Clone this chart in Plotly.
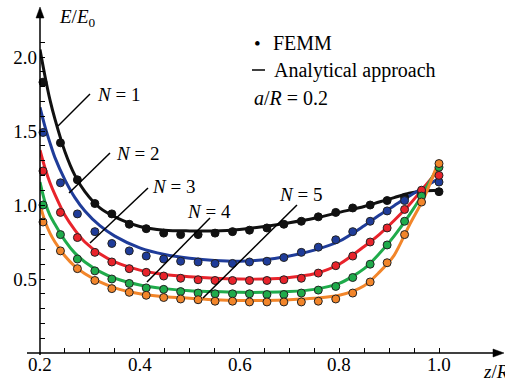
import plotly.graph_objects as go

# ---------------- data ----------------
z_pts = [0.206, 0.241, 0.275, 0.310, 0.344, 0.379, 0.413, 0.448, 0.482, 0.517, 0.551, 0.586,
         0.620, 0.655, 0.689, 0.724, 0.758, 0.793, 0.827, 0.862, 0.896, 0.931, 0.965, 1.000]

femm_n1 = [1.83, 1.42, 1.17, 1.01, 0.94, 0.87, 0.84, 0.81, 0.80, 0.80, 0.81, 0.82,
           0.83, 0.845, 0.87, 0.89, 0.92, 0.95, 0.98, 1.00, 1.03, 1.05, 1.07, 1.09]
femm_n2 = [1.49, 1.15, 0.94, 0.82, 0.74, 0.69, 0.655, 0.635, 0.62, 0.615, 0.605, 0.605,
           0.615, 0.62, 0.645, 0.68, 0.715, 0.765, 0.82, 0.89, 0.96, 1.03, 1.09, 1.155]
femm_n3 = [1.23, 0.95, 0.78, 0.68, 0.615, 0.57, 0.545, 0.52, 0.505, 0.495, 0.49, 0.49,
           0.49, 0.49, 0.495, 0.505, 0.54, 0.59, 0.655, 0.75, 0.845, 0.97, 1.10, 1.20]
femm_n4 = [1.00, 0.80, 0.635, 0.555, 0.50, 0.47, 0.44, 0.43, 0.415, 0.405, 0.40, 0.40,
           0.40, 0.395, 0.395, 0.405, 0.425, 0.45, 0.51, 0.60, 0.73, 0.89, 1.06, 1.255]
femm_n5 = [0.885, 0.69, 0.57, 0.49, 0.435, 0.41, 0.39, 0.375, 0.365, 0.36, 0.35, 0.35,
           0.345, 0.345, 0.345, 0.345, 0.35, 0.365, 0.405, 0.48, 0.61, 0.80, 1.02, 1.28]

z_line = [0.20, 0.21, 0.22, 0.23, 0.25, 0.27, 0.29, 0.32, 0.35, 0.40, 0.45, 0.50,
          0.55, 0.60, 0.65, 0.70, 0.75, 0.80, 0.85, 0.88, 0.91, 0.94, 0.97, 1.00]

anal_n1 = [2.05, 1.87, 1.71, 1.58, 1.36, 1.20, 1.09, 0.98, 0.92, 0.855, 0.83, 0.825,
           0.825, 0.835, 0.855, 0.88, 0.91, 0.95, 0.99, 1.02, 1.05, 1.08, 1.095, 1.10]
anal_n2 = [1.66, 1.53, 1.42, 1.32, 1.17, 1.05, 0.96, 0.86, 0.79, 0.71, 0.665, 0.64,
           0.625, 0.62, 0.63, 0.655, 0.695, 0.755, 0.86, 0.93, 0.995, 1.06, 1.12, 1.18]
anal_n3 = [1.37, 1.25, 1.15, 1.07, 0.93, 0.83, 0.75, 0.67, 0.615, 0.56, 0.53, 0.515,
           0.505, 0.50, 0.50, 0.51, 0.535, 0.60, 0.72, 0.80, 0.895, 1.00, 1.12, 1.24]
anal_n4 = [1.155, 1.02, 0.93, 0.87, 0.76, 0.675, 0.615, 0.55, 0.505, 0.46, 0.435, 0.42,
           0.415, 0.41, 0.41, 0.415, 0.43, 0.47, 0.57, 0.67, 0.79, 0.93, 1.09, 1.27]
anal_n5 = [1.00, 0.89, 0.81, 0.75, 0.655, 0.585, 0.535, 0.48, 0.44, 0.40, 0.38, 0.37,
           0.36, 0.355, 0.355, 0.36, 0.37, 0.39, 0.455, 0.545, 0.66, 0.86, 1.05, 1.30]

series_names = ["N = 1", "N = 2", "N = 3", "N = 4", "N = 5"]
x_tick_vals = [0.2, 0.4, 0.6, 0.8, 1.0]
x_tick_text = ["0.2", "0.4", "0.6", "0.8", "1.0"]
y_tick_vals = [0.5, 1.0, 1.5, 2.0]
y_tick_text = ["0.5", "1.0", "1.5", "2.0"]
x_minor = [0.25, 0.3, 0.35, 0.45, 0.5, 0.55, 0.65, 0.7, 0.75, 0.85, 0.9, 0.95]
y_minor = [0.1, 0.2, 0.3, 0.4, 0.6, 0.7, 0.8, 0.9, 1.1, 1.2, 1.3, 1.4, 1.6, 1.7, 1.8, 1.9, 2.1]

colors = ["#111111", "#1f3c99", "#e8232b", "#1fab4b", "#f2852a"]
femm = [femm_n1, femm_n2, femm_n3, femm_n4, femm_n5]
anal = [anal_n1, anal_n2, anal_n3, anal_n4, anal_n5]

# ---------------- geometry ----------------
W, H = 505, 381
ML, MR, MT, MB = 40, 2, 8, 28
PW, PH = W - ML - MR, H - MT - MB
X0, X1 = 0.2, 0.2 + PW / 498.75
Y0, Y1 = 0.0, PH / 148.0


def px(xp):
    return (xp - ML) / PW


def py(yp):
    return (H - MB - yp) / PH


FONT = "'Liberation Serif', 'Times New Roman', Times, serif"
FS = 19

fig = go.Figure()

for name, c, ys in zip(series_names, colors, anal):
    fig.add_trace(go.Scatter(x=z_line, y=ys, mode="lines", name=name,
                             line=dict(color=c, width=3, shape="spline", smoothing=0.8),
                             showlegend=False, cliponaxis=False))

for i, (name, c, ys) in enumerate(zip(series_names, colors, femm)):
    fig.add_trace(go.Scatter(x=z_pts, y=ys, mode="markers", name=name,
                             marker=dict(color=c, size=8,
                                         line=dict(color="#222222" if i else c, width=1)),
                             showlegend=False, cliponaxis=False))

shapes = []
# axis lines
shapes.append(dict(type="line", xref="paper", yref="paper", x0=px(27), x1=px(496), y0=0, y1=0,
                   line=dict(color="black", width=1.5)))
shapes.append(dict(type="line", xref="paper", yref="paper", x0=0, x1=0, y0=py(355), y1=py(14),
                   line=dict(color="black", width=1.5)))
# arrow heads
shapes.append(dict(type="path", xref="paper", yref="paper",
                   path=f"M {px(504)} {py(353)} L {px(493)} {py(349)} L {px(493)} {py(357)} Z",
                   fillcolor="black", line=dict(color="black", width=0.5)))
shapes.append(dict(type="path", xref="paper", yref="paper",
                   path=f"M {px(40)} {py(7)} L {px(36)} {py(18)} L {px(44)} {py(18)} Z",
                   fillcolor="black", line=dict(color="black", width=0.5)))
# leader lines for N labels
leaders = [((90, 94), (58, 126)), ((110, 153), (69, 193)), ((148, 188), (90, 243)),
           ((210, 218), (147, 282)), ((297, 205), (203, 298))]
for (a, b) in leaders:
    shapes.append(dict(type="line", xref="paper", yref="paper",
                       x0=px(a[0]), y0=py(a[1]), x1=px(b[0]), y1=py(b[1]),
                       line=dict(color="black", width=1.5)))
# legend dash
shapes.append(dict(type="line", xref="paper", yref="paper", x0=px(252), x1=px(265),
                   y0=py(70), y1=py(70), line=dict(color="black", width=1.5)))

ann = []
# x tick labels (placed close under the axis, as in the reference)
for v, t in zip(x_tick_vals, x_tick_text):
    ann.append(dict(text=t, xref="x", yref="paper", x=v, y=py(364), xanchor="center",
                    yanchor="middle", showarrow=False, font=dict(family=FONT, size=FS, color="black")))
label_pos = [(95, 94), (114, 153), (150, 186), (185, 211), (277, 194)]
for name, (xp, yp) in zip(series_names, label_pos):
    ann.append(dict(text="<i>N</i>" + name[1:], xref="paper", yref="paper",
                    x=px(xp), y=py(yp), xanchor="left", yanchor="middle", showarrow=False,
                    font=dict(family=FONT, size=FS, color="black")))
ann.append(dict(text="<i>E</i>/<i>E</i><sub>0</sub>", xref="paper", yref="paper",
                x=px(57), y=py(18), xanchor="left", yanchor="middle", showarrow=False,
                font=dict(family=FONT, size=FS, color="black")))
ann.append(dict(text="<i>z</i>/<i>R</i>", xref="paper", yref="paper",
                x=px(481), y=py(371), xanchor="left", yanchor="middle", showarrow=False,
                font=dict(family=FONT, size=FS, color="black")))
ann.append(dict(text="•", xref="paper", yref="paper", x=px(257), y=py(43),
                xanchor="center", yanchor="middle", showarrow=False,
                font=dict(family=FONT, size=FS, color="black")))
ann.append(dict(text="FEMM", xref="paper", yref="paper", x=px(271), y=py(43),
                xanchor="left", yanchor="middle", showarrow=False,
                font=dict(family=FONT, size=20, color="black")))
ann.append(dict(text="Analytical approach", xref="paper", yref="paper", x=px(272), y=py(70),
                xanchor="left", yanchor="middle", showarrow=False,
                font=dict(family=FONT, size=20, color="black")))
ann.append(dict(text="<i>a</i>/<i>R</i> = 0.2", xref="paper", yref="paper", x=px(252), y=py(98),
                xanchor="left", yanchor="middle", showarrow=False,
                font=dict(family=FONT, size=20, color="black")))

fig.update_layout(
    width=W, height=H,
    margin=dict(l=ML, r=MR, t=MT, b=MB, autoexpand=False),
    paper_bgcolor="white", plot_bgcolor="white",
    font=dict(family=FONT, size=FS, color="black"),
    shapes=shapes, annotations=ann, showlegend=False,
    xaxis=dict(range=[X0, X1], showgrid=False, zeroline=False, showline=False,
               automargin=False,
               tickmode="array", tickvals=x_tick_vals, showticklabels=False,
               ticks="inside", ticklen=5, tickwidth=1.2, tickcolor="black",
               minor=dict(tickmode="array", tickvals=x_minor, ticks="inside", ticklen=5,
                          tickwidth=1.2, tickcolor="black", showgrid=False),
               fixedrange=True),
    yaxis=dict(range=[Y0, Y1], showgrid=False, zeroline=False, showline=False,
               automargin=False,
               tickmode="array", tickvals=y_tick_vals, ticktext=y_tick_text,
               ticks="inside", ticklen=5, tickwidth=1.2, tickcolor="black",
               minor=dict(tickmode="array", tickvals=y_minor, ticks="inside", ticklen=5,
                          tickwidth=1.2, tickcolor="black", showgrid=False),
               tickfont=dict(family=FONT, size=FS), ticklabelstandoff=2, fixedrange=True),
)

fig.write_html("out.html", config={"displayModeBar": False},
               post_script="document.body.style.margin='0';document.body.style.overflow='hidden';")
